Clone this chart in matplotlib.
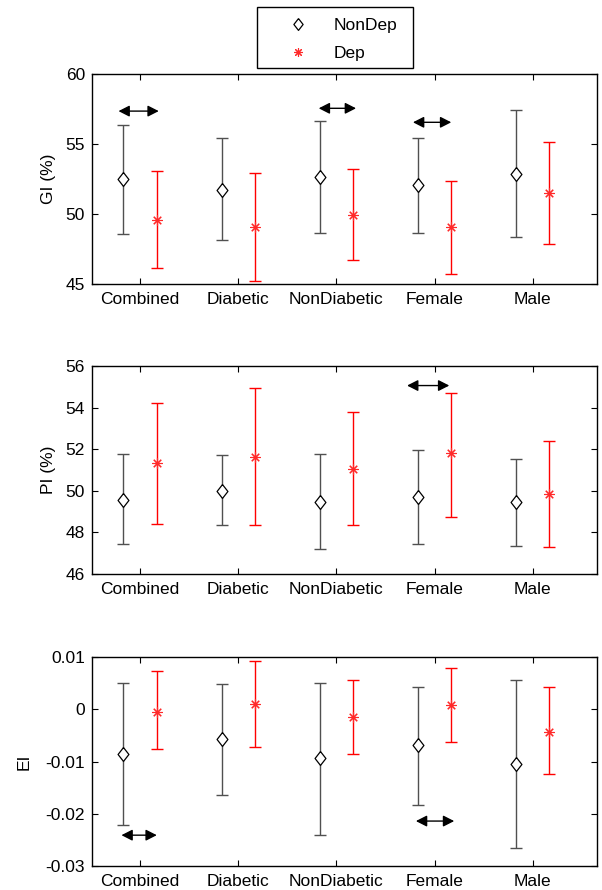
import matplotlib
matplotlib.use("Agg")
import matplotlib.pyplot as plt
import numpy as np
from matplotlib.ticker import FuncFormatter
from matplotlib.patches import Rectangle

plt.rcParams['font.family'] = ['Liberation Sans', 'DejaVu Sans']
plt.rcParams['axes.unicode_minus'] = False

categories = ["Combined", "Diabetic", "NonDiabetic", "Female", "Male"]

# GI (%)
gi_nondep = [52.48, 51.71, 52.66, 52.05, 52.86]
gi_nondep_hi = [56.34, 55.41, 56.64, 55.41, 57.43]
gi_nondep_lo = [48.57, 48.16, 48.66, 48.66, 48.36]
gi_dep = [49.55, 49.05, 49.95, 49.05, 51.48]
gi_dep_hi = [53.07, 52.95, 53.19, 52.36, 55.12]
gi_dep_lo = [46.12, 45.21, 46.74, 45.74, 47.88]

# PI (%)
pi_nondep = [49.56, 49.99, 49.45, 49.72, 49.48]
pi_nondep_hi = [51.77, 51.70, 51.77, 51.98, 51.51]
pi_nondep_lo = [47.44, 48.34, 47.19, 47.44, 47.36]
pi_dep = [51.32, 51.64, 51.06, 51.81, 49.85]
pi_dep_hi = [54.24, 54.93, 53.78, 54.72, 52.39]
pi_dep_lo = [48.42, 48.34, 48.34, 48.75, 47.31]

# EI
ei_nondep = [-0.00856, -0.00575, -0.00939, -0.0069, -0.01048]
ei_nondep_hi = [0.00508, 0.00489, 0.00508, 0.00431, 0.00565]
ei_nondep_lo = [-0.02215, -0.01647, -0.02407, -0.01838, -0.02661]
ei_dep = [-0.00047, 0.0010, -0.00148, 0.00081, -0.00430]
ei_dep_hi = [0.00732, 0.00923, 0.00565, 0.00784, 0.00423]
ei_dep_lo = [-0.00766, -0.00717, -0.00851, -0.00633, -0.01239]

# significance arrows: (x start, x end, y)
gi_arrows_x0 = [0.78, 2.82, 3.78]
gi_arrows_x1 = [1.19, 3.20, 4.17]
gi_arrows_y = [57.35, 57.55, 56.55]
pi_arrows_x0 = [3.72]
pi_arrows_x1 = [4.15]
pi_arrows_y = [55.06]
ei_arrows_x0 = [0.81, 3.81]
ei_arrows_x1 = [1.17, 4.20]
ei_arrows_y = [-0.0241, -0.0214]

gi_ticks = [45, 50, 55, 60]
pi_ticks = [46, 48, 50, 52, 54, 56]
ei_ticks = [-0.03, -0.02, -0.01, 0, 0.01]

FS = 12.5
W, H = 602, 890
fig = plt.figure(figsize=(W / 100, H / 100), dpi=100)

def rect(top, bottom, left=92, right=597):
    return [left / W, 1 - bottom / H, (right - left) / W, (bottom - top) / H]

diamond = [(0, 1), (0.78, 0), (0, -1), (-0.78, 0), (0, 1)]
off = 0.17
x = np.arange(1, len(categories) + 1)

def panel(r, nd, ndhi, ndlo, d, dhi, dlo, ylim, ticks, ylabel, ax0, ax1, ay, fmt, lpad):
    ax = fig.add_axes(r)
    nd = np.array(nd); d = np.array(d)
    ax.errorbar(x - off, nd, yerr=[nd - np.array(ndlo), np.array(ndhi) - nd],
                fmt='none', ecolor='#505050', elinewidth=1.0, capsize=4.5, capthick=1.0, zorder=2)
    ax.plot(x - off, nd, linestyle='none', marker=diamond, markersize=10,
            markerfacecolor='white', markeredgecolor='black', markeredgewidth=0.9, zorder=3,
            label='NonDep')
    ax.errorbar(x + off, d, yerr=[d - np.array(dlo), np.array(dhi) - d],
                fmt='none', ecolor='#ff0000', elinewidth=1.0, capsize=4.5, capthick=1.0, zorder=2)
    ax.plot(x + off, d, linestyle='none', marker=(8, 2, 0), markersize=7.5,
            markeredgecolor='#ff2a2a', markerfacecolor='#ff2a2a', markeredgewidth=0.8, zorder=3,
            label='Dep')
    for a0, a1, yy in zip(ax0, ax1, ay):
        ax.annotate('', xy=(a1, yy), xytext=(a0, yy),
                    arrowprops=dict(arrowstyle='<|-|>,head_length=0.55,head_width=0.28',
                                    color='black', lw=1.0, shrinkA=0, shrinkB=0,
                                    mutation_scale=12))
    ax.set_xlim(0.51, 5.655)
    ax.set_ylim(*ylim)
    ax.set_xticks(x)
    ax.set_xticklabels(categories)
    ax.set_yticks(ticks)
    ax.yaxis.set_major_formatter(FuncFormatter(fmt))
    ax.tick_params(direction='in', top=True, right=True, length=4, width=0.8,
                   labelsize=FS, pad=5)
    ax.tick_params(axis='x', pad=6)
    for s in ax.spines.values():
        s.set_linewidth(1.0)
    ax.set_ylabel(ylabel, fontsize=FS, labelpad=lpad)
    return ax

a1 = panel(rect(74, 284), gi_nondep, gi_nondep_hi, gi_nondep_lo, gi_dep, gi_dep_hi, gi_dep_lo,
           (45, 60), gi_ticks, 'GI (%)', gi_arrows_x0, gi_arrows_x1, gi_arrows_y,
           lambda v, p: '%g' % v, 7)
a2 = panel(rect(366, 574), pi_nondep, pi_nondep_hi, pi_nondep_lo, pi_dep, pi_dep_hi, pi_dep_lo,
           (46, 56), pi_ticks, 'PI (%)', pi_arrows_x0, pi_arrows_x1, pi_arrows_y,
           lambda v, p: '%g' % v, 7)
a3 = panel(rect(657, 866), ei_nondep, ei_nondep_hi, ei_nondep_lo, ei_dep, ei_dep_hi, ei_dep_lo,
           (-0.03, 0.01), ei_ticks, 'EI', ei_arrows_x0, ei_arrows_x1, ei_arrows_y,
           lambda v, p: '%g' % round(v, 4), 10)

h, l = a1.get_legend_handles_labels()
leg = fig.legend(h, l, loc='upper left', bbox_to_anchor=(257 / W, 1 - 7 / H),
                 frameon=False, fontsize=FS, handlelength=3.5, handletextpad=0.3,
                 labelspacing=0.75, borderpad=0.62, borderaxespad=0, markerscale=0.85)
fig.add_artist(Rectangle((257 / W, 1 - 68 / H), (413 - 257) / W, (68 - 7) / H,
                         transform=fig.transFigure, fill=False, edgecolor='black',
                         linewidth=1.0))

fig.savefig('out.png', dpi=100)
